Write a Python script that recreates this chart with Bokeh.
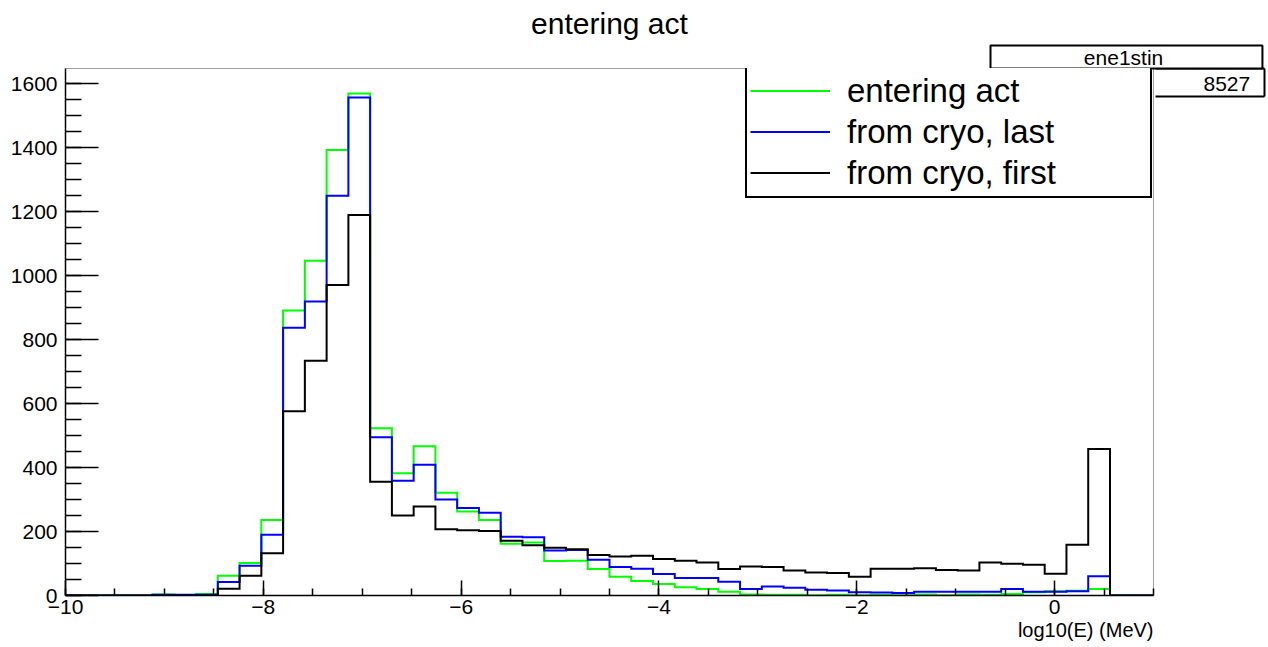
import numpy as np
from bokeh.plotting import figure
from bokeh.models import Range1d, FixedTicker, Legend, LegendItem, Title, LinearAxis
from bokeh.embed import file_html
from bokeh.resources import INLINE

# ---------------- data ----------------
x_lo, x_hi, n_bins = -10.0, 1.0, 50
y_max = 1648

entering_act = [0, 0, 0, 0, 3, 1, 5, 62, 102, 236,
                891, 1047, 1393, 1570, 523, 382, 467, 321, 263, 236,
                162, 166, 108, 109, 83, 59, 45, 36, 26, 20,
                12, 3, 2, 2, 1, 2, 1, 2, 1, 3,
                1, 3, 2, 5, 10, 13, 15, 20, 0, 0]
from_cryo_last = [0, 0, 0, 0, 2, 2, 2, 42, 93, 190,
                  837, 919, 1250, 1557, 495, 359, 409, 300, 274, 259,
                  184, 182, 141, 142, 112, 89, 84, 67, 55, 55,
                  43, 20, 28, 24, 18, 16, 10, 9, 8, 12,
                  12, 12, 12, 20, 12, 12, 13, 60, 0, 0]
from_cryo_first = [0, 0, 0, 0, 0, 0, 0, 21, 62, 132,
                   576, 734, 971, 1190, 356, 250, 278, 207, 204, 202,
                   171, 157, 149, 145, 127, 122, 124, 114, 109, 103,
                   83, 91, 89, 78, 72, 70, 59, 84, 84, 85,
                   80, 78, 103, 99, 96, 68, 159, 458, 0, 0]

series_names = ["entering act", "from cryo, last", "from cryo, first"]
series_colors = ["#00ff00", "#0000ff", "#000000"]

x_ticks = [-10, -8, -6, -4, -2, 0]
x_tick_labels = ["\u221210", "\u22128", "\u22126", "\u22124", "\u22122", "0"]
y_ticks = [0, 200, 400, 600, 800, 1000, 1200, 1400, 1600]

title_text = "entering act"
x_title = "log10(E) (MeV)"
stats_name = "ene1stin"
stats_entries = "8527"

FONT = "Liberation Sans"
NBSP = "\u00a0"

# ---------------- figure ----------------
edges = np.linspace(x_lo, x_hi, n_bins + 1)

frame_left, frame_right, frame_top, frame_bottom = 65, 1153, 68, 595

p = figure(width=1268, height=647, output_backend="svg", toolbar_location=None,
           x_range=Range1d(x_lo, x_hi), y_range=Range1d(0, y_max),
           min_border_left=frame_left, min_border_right=1268 - frame_right,
           min_border_top=frame_top, min_border_bottom=647 - frame_bottom)
p.background_fill_color = "white"
p.border_fill_color = "white"
p.outline_line_color = "#a0a0a0"
p.outline_line_width = 1
p.xgrid.visible = False
p.ygrid.visible = False

# title (ROOT style, centred over the frame) - outermost in the top border
p.title = Title(text=title_text, align="center", text_font=FONT, text_font_size="30px",
                text_font_style="normal", text_color="black", standoff=7)


def step_xy(vals):
    xs, ys = [], []
    for i, v in enumerate(vals):
        xs += [edges[i], edges[i + 1]]
        ys += [v, v]
    xs.append(edges[-1])
    ys.append(0)
    return xs, ys


renderers = []
for vals, col in zip([entering_act, from_cryo_last, from_cryo_first], series_colors):
    xs, ys = step_xy(vals)
    r = p.line(xs, ys, line_color=col, line_width=2, line_join="miter")
    renderers.append(r)

# axes
for ax in (p.xaxis[0], p.yaxis[0]):
    ax.axis_line_color = "black"
    ax.axis_line_width = 1.5
    ax.major_tick_line_color = "black"
    ax.minor_tick_line_color = "black"
    ax.major_tick_line_width = 1.5
    ax.minor_tick_line_width = 1.5
    ax.major_tick_out = 0
    ax.minor_tick_out = 0
    ax.major_label_text_font = FONT
    ax.major_label_text_font_size = "21px"
    ax.major_label_text_color = "black"

p.xaxis.ticker = FixedTicker(ticks=x_ticks, minor_ticks=list(np.arange(x_lo, x_hi + 0.01, 0.5)))
p.xaxis.major_label_overrides = {t: l for t, l in zip(x_ticks, x_tick_labels)}
p.xaxis.major_tick_in = 15
p.xaxis.minor_tick_in = 7
p.xaxis.major_label_standoff = 4

p.yaxis.ticker = FixedTicker(ticks=y_ticks, minor_ticks=list(range(0, y_max + 1, 50)))
p.yaxis.major_tick_in = 33
p.yaxis.minor_tick_in = 16
p.yaxis.major_label_standoff = 8

# x axis title, right aligned under the axis (ROOT style)
p.add_layout(Title(text=x_title, align="right", text_font=FONT, text_font_size="20px",
                   text_font_style="normal", text_color="black", standoff=0), "below")

# ---------------- stats box ----------------
# row 1: boxed histogram name in the top border, next to the frame
stats_row1 = Title(text=NBSP * 16 + stats_name + NBSP * 17, align="left", offset=990 - frame_left,
                   text_font=FONT, text_font_size="21px", text_font_style="normal",
                   text_color="black", standoff=0,
                   border_line_color="black", border_line_width=2, border_line_alpha=1,
                   background_fill_color="white", background_fill_alpha=1)
p.add_layout(stats_row1, "above")


def y_at(py):
    return (frame_bottom - py) * y_max / (frame_bottom - frame_top)


row2_bottom = y_at(96)
row2_text = y_at(83)

# row 2: entries, in the right border (its left edge is hidden behind the legend)
stats_row2 = LinearAxis(bounds=(row2_bottom, y_max),
                        ticker=FixedTicker(ticks=[row2_text], minor_ticks=[]),
                        major_label_overrides={row2_text: stats_entries + NBSP * 2},
                        axis_line_alpha=0,
                        major_tick_in=0, major_tick_out=0, major_tick_line_alpha=0,
                        minor_tick_in=0, minor_tick_out=0,
                        major_label_standoff=50, major_label_text_font=FONT,
                        major_label_text_font_size="21px", major_label_text_color="black")
p.add_layout(stats_row2, "right")

# row 2: right edge, with top and bottom edges drawn as inward ticks
stats_row2_edge = LinearAxis(bounds=(row2_bottom, y_max),
                             ticker=FixedTicker(ticks=[], minor_ticks=[row2_bottom, y_max]),
                             axis_line_color="black", axis_line_width=2,
                             major_tick_in=0, major_tick_out=0,
                             minor_tick_in=109, minor_tick_out=0,
                             minor_tick_line_color="black", minor_tick_line_width=2,
                             major_label_text_font_size="0px")
p.add_layout(stats_row2_edge, "right")

# ---------------- main legend ----------------
legend = Legend(items=[LegendItem(label=n, renderers=[r]) for n, r in zip(series_names, renderers)],
                location=(745 - frame_left, frame_bottom - 198),
                border_line_color="black", border_line_width=2, border_line_alpha=1,
                background_fill_color="white", background_fill_alpha=1,
                label_text_font=FONT, label_text_font_size="33px", label_text_color="black",
                glyph_width=80, glyph_height=41, label_height=41, label_width=300,
                label_standoff=17, padding=3, spacing=0, margin=0)
p.add_layout(legend)

open("out.html", "w").write(file_html(p, INLINE))
